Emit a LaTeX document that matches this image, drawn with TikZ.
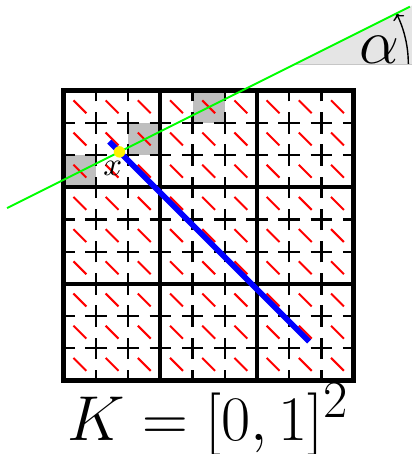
\documentclass[tikz,border=0pt]{standalone}
\usepackage{tikz}
\usetikzlibrary{arrows.meta}

\begin{document}
\begin{tikzpicture}[
    x=32.2pt, y=32.2pt,
    frameline/.style={line width=4.8pt},
    bigline/.style={line width=3.9pt},
    smallline/.style={line width=2.3pt, dash pattern=on 21.47pt off 10.73pt, dash phase=10.73pt},
    redtick/.style={red, line width=2pt},
    graycell/.style={fill=lightgray},
    greenline/.style={green, line width=2pt},
    blueline/.style={blue, line width=5.6pt},
    biglabel/.style={font=\Huge, scale=2.55},
]
\useasboundingbox (-1.981,-2.283) rectangle (10.814,11.817);

% Marked cells
\fill[graycell] (0,6) rectangle (1,7);
\fill[graycell] (2,7) rectangle (3,8);
\fill[graycell] (4,8) rectangle (5,9);

% Directions in every cell
\foreach \i in {0,...,8}
  \foreach \j in {0,...,8}
    \draw[redtick] (\i+0.3,\j+0.7) -- (\i+0.7,\j+0.3);

% Fine grid
\foreach \k in {1,2,4,5,7,8} {
  \draw[smallline] (\k,0) -- (\k,9);
  \draw[smallline] (0,\k) -- (9,\k);
}

% Coarse grid
\foreach \k in {3,6} {
  \draw[bigline] (\k,0) -- (\k,9);
  \draw[bigline] (0,\k) -- (9,\k);
}
\draw[frameline] (0,0) rectangle (9,9);

% Angle wedge
\coordinate (vertex) at (7.19,9.83);
\fill[gray!20] (vertex) -- (11,9.83) -- (11,11.735) -- cycle;
\draw[gray!45, line width=0.8pt] (vertex) -- (11,9.83);
\draw[line width=1.4pt, -{To[length=6pt, width=12pt]}] ([shift={(3.51,0)}]vertex) arc[start angle=0, end angle=26.57, radius=3.51];
\node[biglabel, anchor=base] (alphalabel) at (9.80,9.84) {$\alpha$};

% Point and lines through it
\coordinate (x) at (1.73,7.10);
\draw[greenline] ([shift={(-3.49,-1.745)}]x) -- ([shift={(9.02,4.51)}]x);
\draw[blueline] ([shift={(-0.32,0.32)}]x) -- ([shift={(5.89,-5.89)}]x);
\node[circle, fill=yellow, inner sep=0pt, minimum size=11.5pt] (dot) at (x) {};
\node[font=\normalsize, scale=3.3] (xlabel) at (1.52,6.58) {$x$};

% Domain
\node[biglabel, anchor=base] (Klabel) at (4.48,-1.85) {$K = [0,1]^2$};
\end{tikzpicture}
\end{document}
